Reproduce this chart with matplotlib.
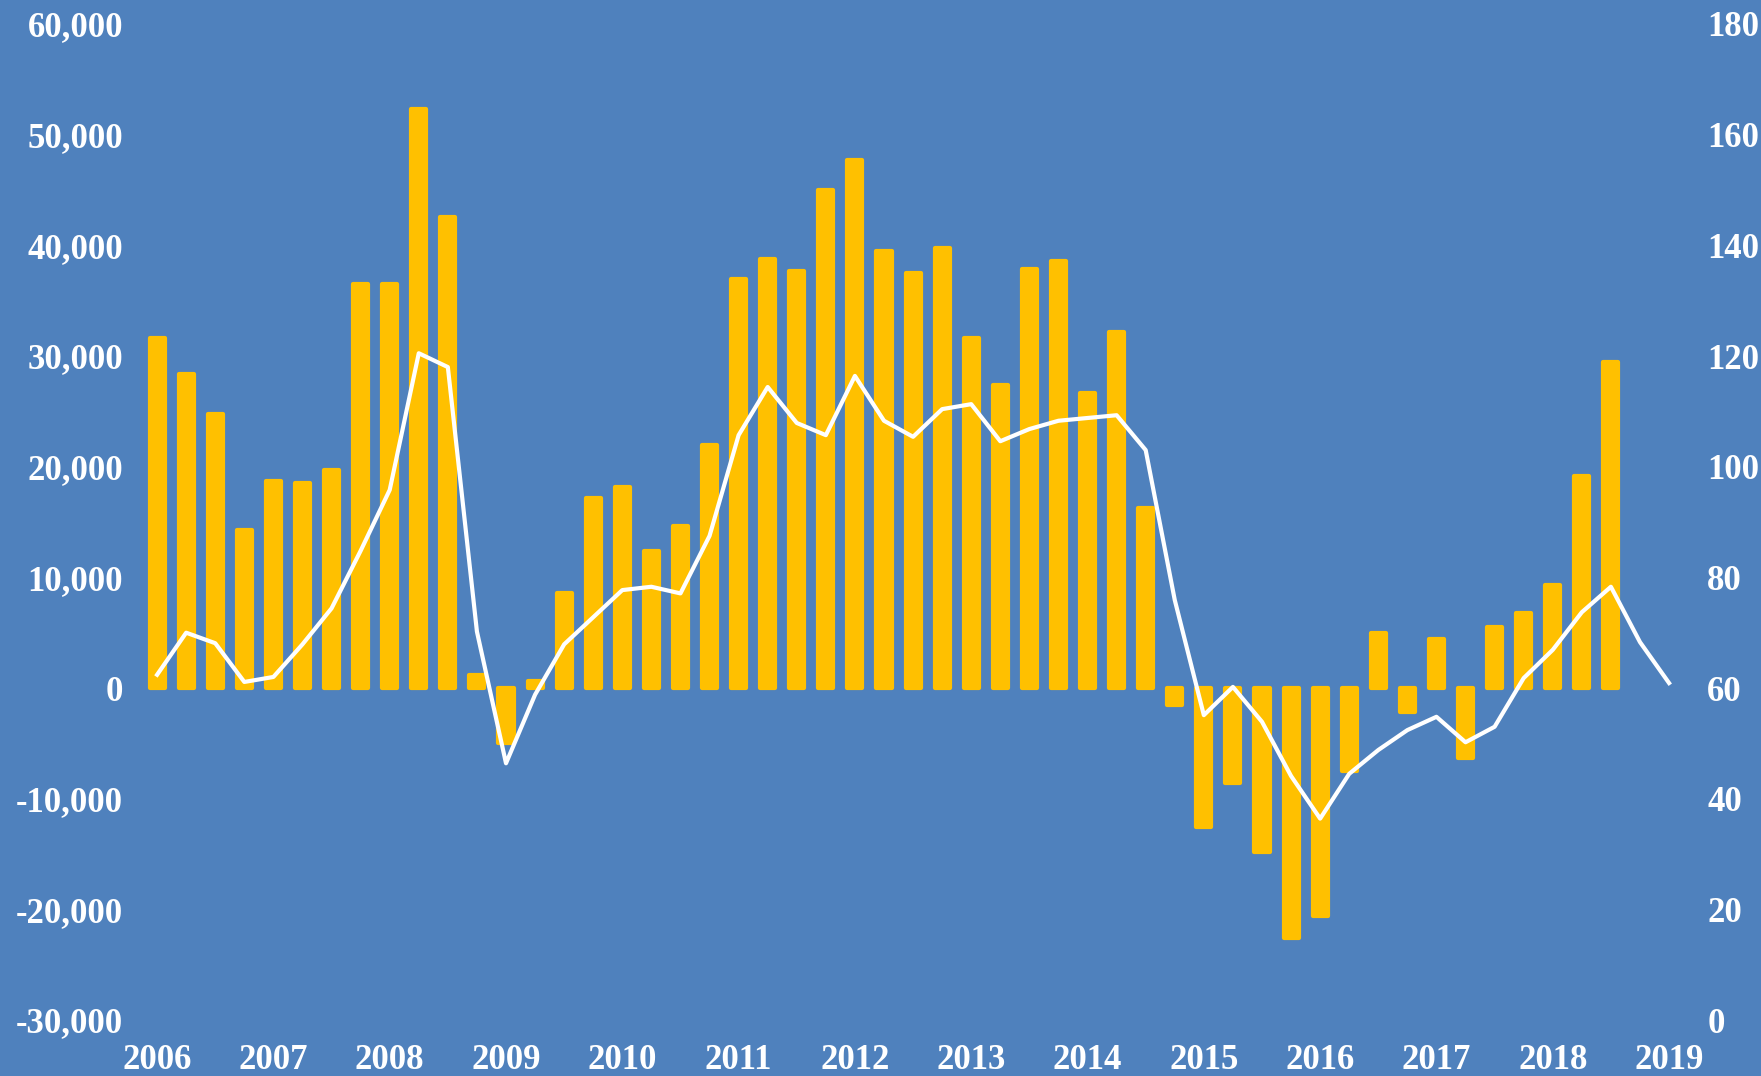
import matplotlib
matplotlib.use("Agg")
import matplotlib.pyplot as plt
import numpy as np

# quarterly data, 2006 Q1 onwards
bar_values = [31600, 28400, 24800, 14300, 18700, 18500, 19700, 36500,
              36500, 52300, 42600, 1200, -5000, 600, 8600, 17200,
              18200, 12400, 14600, 22000, 37000, 38800, 37700, 45000,
              47700, 39500, 37500, 39800, 31600, 27400, 37900, 38600,
              26700, 32200, 16300, -1500, -12600, -8600, -14800, -22600,
              -20600, -7500, 5000, -2200, 4400, -6300, 5500, 6800,
              9300, 19200, 29500]
line_values = [62.4, 70.0, 68.1, 61.1, 62.0, 67.9, 74.4, 84.8,
               95.8, 120.5, 118.0, 70.2, 46.4, 58.8, 67.9, 72.8,
               77.7, 78.3, 77.1, 87.5, 105.7, 114.4, 107.9, 105.7,
               116.4, 108.3, 105.4, 110.4, 111.3, 104.6, 106.8, 108.3,
               108.8, 109.3, 103.0, 75.9, 55.1, 60.2, 53.9, 44.1,
               36.4, 44.5, 48.8, 52.4, 54.8, 50.2, 53.0, 61.8,
               66.9, 73.7, 78.3, 68.3, 60.9]
years = list(range(2006, 2020))
left_ticks = [-30000, -20000, -10000, 0, 10000, 20000, 30000, 40000, 50000, 60000]
right_ticks = [0, 20, 40, 60, 80, 100, 120, 140, 160, 180]

bg = "#4F81BD"
bar_color = "#FFC000"

bar_x = 2006 + np.arange(len(bar_values)) * 0.25
line_x = 2006 + np.arange(len(line_values)) * 0.25

fig = plt.figure(figsize=(17.61, 10.76), dpi=100)
fig.patch.set_facecolor(bg)
ax = fig.add_axes([0.0793, 0.052, 0.8784, 0.9257])
ax.set_facecolor(bg)

# bars with rounded corners via a thick round-joined edge
ax.bar(bar_x, bar_values, width=0.13, color=bar_color, edgecolor=bar_color,
       linewidth=3, joinstyle="round", zorder=2)
ax.set_xlim(2005.85, 2019.15)
ax.set_ylim(-30000, 60000)

ax2 = ax.twinx()
ax2.plot(line_x, line_values, color="white", linewidth=3, zorder=3)
ax2.set_ylim(0, 180)

font = dict(family="Liberation Serif", weight="bold", size=25, color="white")

ax.set_xticks(years)
ax.set_xticklabels([str(y) for y in years], **font)
ax.set_yticks(left_ticks)
ax.set_yticklabels([f"{v:,}" for v in left_ticks], **font)
ax2.set_yticks(right_ticks)
ax2.set_yticklabels([str(v) for v in right_ticks], **font)

ax.tick_params(axis="x", length=0, pad=17)
ax.tick_params(axis="y", length=0, pad=12)
ax2.tick_params(axis="y", length=0, pad=15)

for a in (ax, ax2):
    for s in a.spines.values():
        s.set_visible(False)

fig.savefig("out.png", dpi=100, facecolor=bg)
